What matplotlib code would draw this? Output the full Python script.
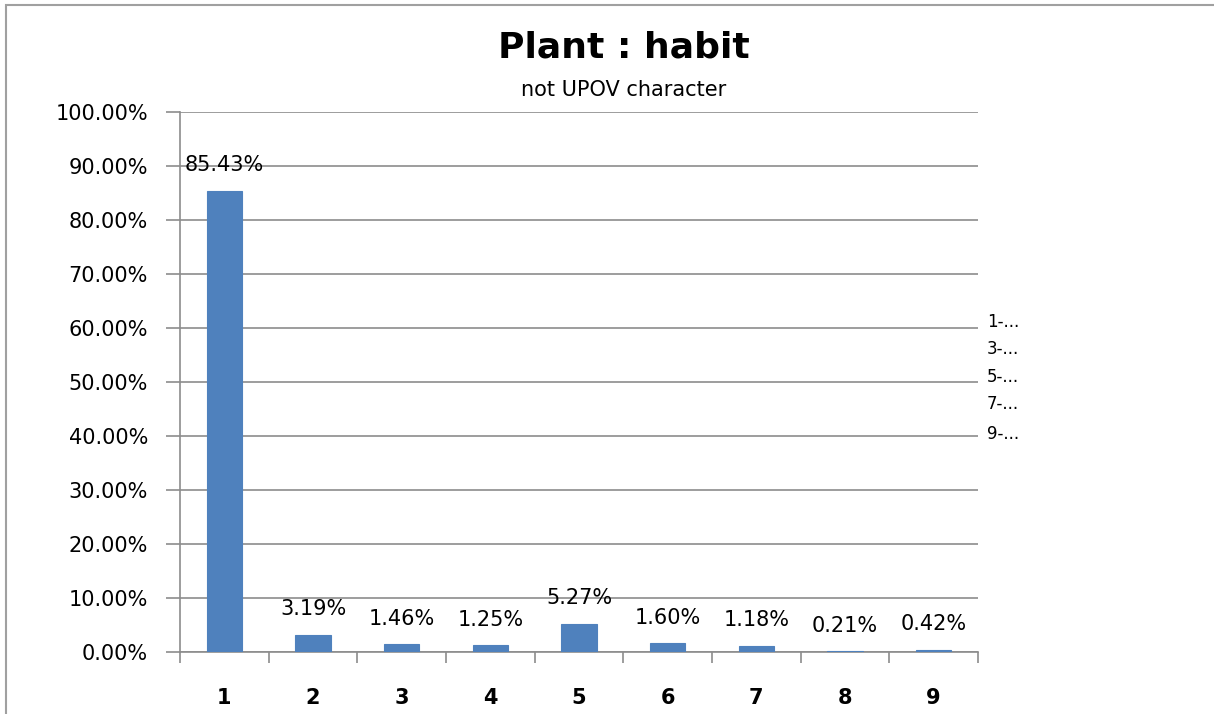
import matplotlib
matplotlib.use("Agg")
import matplotlib.pyplot as plt
from matplotlib.patches import Rectangle
from matplotlib.ticker import FuncFormatter, FixedLocator
import numpy as np

categories = ["1", "2", "3", "4", "5", "6", "7", "8", "9"]
values = [85.43, 3.19, 1.46, 1.25, 5.27, 1.60, 1.18, 0.21, 0.42]
legend_labels = ["1-...", "3-...", "5-...", "7-...", "9-..."]
title = "Plant : habit"
subtitle = "not UPOV character"

plt.rcParams['font.family'] = ['DejaVu Sans']

fig = plt.figure(figsize=(12.14, 7.14), dpi=100)
W, H = 1214, 714
ax = fig.add_axes([180 / W, 1 - 652 / H, (978 - 180) / W, (652 - 112) / H])

x = np.arange(len(categories))
bars = ax.bar(x, values, width=0.4, color="#4F81BD", edgecolor="#4F81BD",
              linewidth=0.8, zorder=3)

ax.set_xlim(-0.5, len(categories) - 0.5)
ax.set_ylim(0, 100)
ax.yaxis.set_major_locator(FixedLocator(np.arange(0, 101, 10)))
ax.yaxis.set_major_formatter(FuncFormatter(lambda v, p: f"{v:.2f}%"))
ax.grid(axis="y", color="#8c8c8c", linewidth=1.2, zorder=0)

ax.set_xticks(x)
ax.set_xticklabels(categories, fontsize=15, fontweight="bold")
ax.set_xticks(np.arange(-0.5, len(categories)), minor=True)
ax.tick_params(axis="x", which="major", length=0, pad=26)
ax.tick_params(axis="x", which="minor", length=8, width=1.2, color="#8c8c8c", direction="out")
ax.tick_params(axis="y", length=10, width=1.2, color="#8c8c8c", labelsize=15, pad=13)

for s in ["top", "right"]:
    ax.spines[s].set_visible(False)
for s in ["left", "bottom"]:
    ax.spines[s].set_color("#8c8c8c")
    ax.spines[s].set_linewidth(1.2)

for xi, v in zip(x, values):
    ax.annotate(f"{v:.2f}%", (xi, v), xytext=(0, 11), textcoords="offset points",
                ha="center", va="bottom", fontsize=15)

fig.text(624 / W, 1 - 47 / H, title, ha="center", va="center", fontsize=26, fontweight="bold")
fig.text(624 / W, 1 - 90 / H, subtitle, ha="center", va="center", fontsize=15)

leg_y = [322, 349, 377, 404, 434]
for lab, yy in zip(legend_labels, leg_y):
    fig.text(987 / W, 1 - yy / H, lab, ha="left", va="center", fontsize=12)

fig.patches.append(Rectangle((6 / W, -0.1), 1.2, 1 - 5 / H + 0.1, transform=fig.transFigure,
                             fill=False, edgecolor="#a0a0a0", linewidth=1.5))

fig.savefig("out.png", dpi=100)
